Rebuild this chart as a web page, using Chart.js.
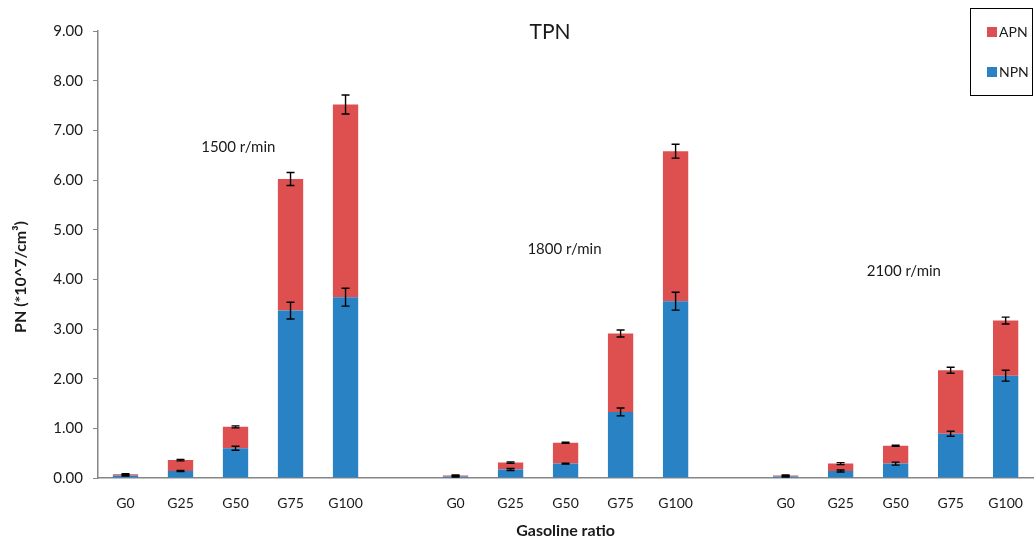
<!DOCTYPE html>
<html>
<head>
<meta charset="utf-8">
<script src="https://cdn.jsdelivr.net/npm/chart.js@4/dist/chart.umd.min.js"></script>
<style>
  html, body { margin: 0; padding: 0; background: #fff; overflow: hidden; }
</style>
</head>
<body>
<canvas id="graficoTPN" width="1040" height="542"></canvas>
<script>
// categorias: 3 grupos de rotacao, com uma coluna vazia entre eles
var categorias = ['G0', 'G25', 'G50', 'G75', 'G100', '',
                  'G0', 'G25', 'G50', 'G75', 'G100', '',
                  'G0', 'G25', 'G50', 'G75', 'G100'];

var npn = [0.05, 0.14, 0.60, 3.37, 3.64, null,
           0.03, 0.17, 0.29, 1.33, 3.56, null,
           0.03, 0.14, 0.29, 0.89, 2.06];

var apn = [0.025, 0.22, 0.43, 2.65, 3.88, null,
           0.02, 0.14, 0.42, 1.58, 3.02, null,
           0.02, 0.15, 0.36, 1.28, 1.11];

var erroNPN = [0.01, 0.01, 0.04, 0.17, 0.18, null,
               0.01, 0.02, 0.01, 0.08, 0.18, null,
               0.01, 0.02, 0.03, 0.05, 0.11];

var erroTotal = [0.01, 0.015, 0.02, 0.13, 0.19, null,
                 0.01, 0.015, 0.01, 0.07, 0.14, null,
                 0.01, 0.02, 0.01, 0.06, 0.07];

var rotacoes = ['1500 r/min', '1800 r/min', '2100 r/min'];
var rotacaoX = [2.05, 7.98, 14.15];   // posicao no eixo das categorias
var rotacaoY = [6.66, 4.61, 4.17];    // posicao no eixo PN

var corTexto = '#1a1a1a';
var corEixo = '#868686';
var fonte = 'Lato';

// barras de erro
var barrasErro = {
  id: 'barrasErro',
  afterDatasetsDraw: function (chart) {
    var ctx = chart.ctx;
    var y = chart.scales.y;
    var meta = chart.getDatasetMeta(0);
    ctx.save();
    ctx.strokeStyle = '#000';
    ctx.lineWidth = 1.4;
    for (var i = 0; i < npn.length; i++) {
      if (npn[i] == null) continue;
      var x = meta.data[i].x;
      var pares = [[npn[i], erroNPN[i]], [npn[i] + apn[i], erroTotal[i]]];
      pares.forEach(function (p) {
        var y1 = y.getPixelForValue(p[0] + p[1]);
        var y2 = y.getPixelForValue(p[0] - p[1]);
        ctx.beginPath();
        ctx.moveTo(x, y1); ctx.lineTo(x, y2);
        ctx.moveTo(x - 4, y1); ctx.lineTo(x + 4, y1);
        ctx.moveTo(x - 4, y2); ctx.lineTo(x + 4, y2);
        ctx.stroke();
      });
    }
    ctx.restore();
  }
};

// titulo, rotacoes, titulo do eixo y e legenda
var textos = {
  id: 'textos',
  afterDraw: function (chart) {
    var ctx = chart.ctx;
    var xs = chart.scales.x, ys = chart.scales.y;
    ctx.save();
    ctx.fillStyle = corTexto;
    ctx.textBaseline = 'middle';
    ctx.textAlign = 'center';

    ctx.font = '21px "' + fonte + '"';
    ctx.fillText('TPN', 550, 32);

    ctx.font = '15px "' + fonte + '"';
    for (var i = 0; i < rotacoes.length; i++) {
      var px = xs.left + (rotacaoX[i] + 0.5) * (xs.width / categorias.length);
      ctx.fillText(rotacoes[i], px, ys.getPixelForValue(rotacaoY[i]));
    }

    // titulo do eixo y
    ctx.save();
    ctx.translate(21, 277);
    ctx.rotate(-Math.PI / 2);
    ctx.font = 'bold 16px "' + fonte + '"';
    ctx.fillText('PN (*10^7/cm³)', 0, 0);
    ctx.restore();

    // legenda
    ctx.strokeStyle = '#000';
    ctx.lineWidth = 1;
    ctx.strokeRect(970.5, 8.5, 62, 87);
    var ds = chart.data.datasets.slice().reverse();
    ctx.textAlign = 'left';
    ctx.font = '14px "' + fonte + '"';
    ds.forEach(function (d, k) {
      var ly = 32 + k * 40;
      ctx.fillStyle = d.backgroundColor;
      ctx.fillRect(987, ly - 5, 10, 10);
      ctx.fillStyle = corTexto;
      ctx.fillText(d.label, 999, ly);
    });
    ctx.restore();
  }
};

var ctx = document.getElementById('graficoTPN').getContext('2d');
var chart = new Chart(ctx, {
  type: 'bar',
  data: {
    labels: categorias,
    datasets: [
      {
        label: 'NPN',
        data: npn,
        backgroundColor: '#2882C4',
        barPercentage: 0.46,
        categoryPercentage: 1
      },
      {
        label: 'APN',
        data: apn,
        backgroundColor: '#DE5050',
        barPercentage: 0.46,
        categoryPercentage: 1
      }
    ]
  },
  options: {
    responsive: false,
    animation: false,
    layout: { padding: { top: 31, right: 2, left: 0, bottom: 0 } },
    plugins: {
      legend: { display: false },
      title: { display: false },
      tooltip: { enabled: false }
    },
    scales: {
      x: {
        stacked: true,
        grid: { display: false, drawTicks: false },
        border: { display: true, color: corEixo, width: 1.5 },
        ticks: {
          color: corTexto, padding: 17, autoSkip: false, maxRotation: 0,
          font: { family: fonte, size: 14 }
        },
        title: {
          display: true, text: 'Gasoline ratio', color: corTexto,
          padding: { top: 0, bottom: 2 },
          font: { family: fonte, size: 16, weight: 'bold' }
        },
        afterFit: function (s) { s.height = 64; }
      },
      y: {
        stacked: true,
        min: 0,
        max: 9,
        grid: { display: true, drawOnChartArea: false, drawTicks: true, tickLength: 5, color: corEixo },
        border: { display: true, color: corEixo, width: 1.5 },
        ticks: {
          stepSize: 1, color: corTexto, padding: 10,
          font: { family: fonte, size: 15 },
          callback: function (v) { return v.toFixed(2); }
        },
        afterFit: function (s) { s.width = 98; }
      }
    }
  },
  plugins: [barrasErro, textos]
});
</script>
</body>
</html>
